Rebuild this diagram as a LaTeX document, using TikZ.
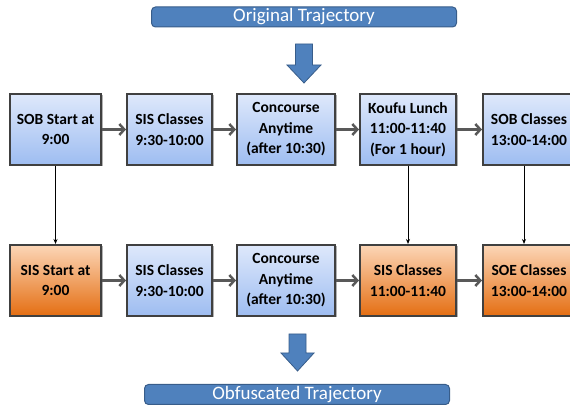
\documentclass[tikz,border=0pt]{standalone}
\usepackage{fontspec}
\setmainfont{Carlito}
\usetikzlibrary{arrows.meta,positioning,shadows}
\definecolor{bannerblue}{RGB}{79,129,189}
\definecolor{bannerline}{RGB}{56,93,138}
\definecolor{boxline}{RGB}{64,64,64}
\definecolor{flowgray}{RGB}{89,89,89}
\definecolor{blueTop}{RGB}{222,232,251}
\definecolor{blueMid}{RGB}{200,217,248}
\definecolor{blueBot}{RGB}{158,189,241}
\definecolor{orangeTop}{RGB}{252,214,183}
\definecolor{orangeMid}{RGB}{246,184,137}
\definecolor{orangeBot}{RGB}{228,110,18}

\tikzset{
  tripbox/.style={draw=boxline,line width=2pt,minimum height=71pt,inner sep=1pt,align=center,
    font=\fontsize{15.5}{20.5}\selectfont\bfseries,
    drop shadow={shadow xshift=1.5pt,shadow yshift=-1.5pt,opacity=.3,fill=black}},
  keptbox/.style={tripbox,top color=blueTop,middle color=blueMid,bottom color=blueBot},
  swapbox/.style={tripbox,top color=orangeTop,middle color=orangeMid,bottom color=orangeBot},
  banner/.style={draw=bannerline,fill=bannerblue,line width=1pt,rounded corners=4pt,
    minimum width=305pt,minimum height=20pt,inner sep=0pt,text=white,
    font=\fontsize{19}{20}\selectfont},
  flow/.style={draw=flowgray,line width=2.5pt,-{Straight Barb[length=5pt,width=11pt]}},
  linkdown/.style={draw=black,line width=1pt,-{Stealth[length=5pt,width=4pt]}},
  blockarr/.style={draw=bannerline,fill=bannerblue,line width=.8pt}
}

\begin{document}
\begin{tikzpicture}[x=1pt,y=1pt]
\useasboundingbox (0,0) rectangle (570,406);
\clip (0,0) rectangle (570,406);

% titles
\node[banner] (origTitle) at (304,389) {Original Trajectory};
\node[banner] (obfTitle) at (297,11.5) {Obfuscated Trajectory};

% big arrows
\draw[blockarr] (295.5,362) -- (312.5,362) -- (312.5,341) -- (321,341) -- (304,323) -- (287,341) -- (295.5,341) -- cycle;
\draw[blockarr] (289,72) -- (306,72) -- (306,53) -- (314,53) -- (297.5,35) -- (281,53) -- (289,53) -- cycle;

% original trajectory
\node[keptbox,minimum width=91pt] (orig1) at (55.5,276.5) {SOB Start at\\9:00};
\node[keptbox,minimum width=85pt,right=24pt of orig1] (orig2) {SIS Classes\\9:30-10:00};
\node[keptbox,minimum width=98pt,right=23pt of orig2] (orig3) {Concourse\\Anytime\\(after 10:30)};
\node[keptbox,minimum width=96pt,right=23pt of orig3] (orig4) {Koufu Lunch\\11:00-11:40\\(For 1 hour)};
\node[keptbox,minimum width=92pt,right=25pt of orig4] (orig5) {SOB Classes\\13:00-14:00};

% obfuscated trajectory
\node[swapbox,minimum width=91pt,below=78pt of orig1] (obf1) {SIS Start at\\9:00};
\node[keptbox,minimum width=85pt,below=78pt of orig2] (obf2) {SIS Classes\\9:30-10:00};
\node[keptbox,minimum width=98pt,below=78pt of orig3] (obf3) {Concourse\\Anytime\\(after 10:30)};
\node[swapbox,minimum width=96pt,below=78pt of orig4] (obf4) {SIS Classes\\11:00-11:40};
\node[swapbox,minimum width=92pt,below=78pt of orig5] (obf5) {SOE Classes\\13:00-14:00};

\draw[flow] (orig1) -- (orig2);
\draw[flow] (orig2) -- (orig3);
\draw[flow] (orig3) -- (orig4);
\draw[flow] (orig4) -- (orig5);
\draw[flow] (obf1) -- (obf2);
\draw[flow] (obf2) -- (obf3);
\draw[flow] (obf3) -- (obf4);
\draw[flow] (obf4) -- (obf5);

\draw[linkdown] (orig1) -- (obf1);
\draw[linkdown] (orig4) -- (obf4);
\draw[linkdown] ([xshift=-5pt]orig5.south) -- ([xshift=-5pt]obf5.north);
\end{tikzpicture}
\end{document}
